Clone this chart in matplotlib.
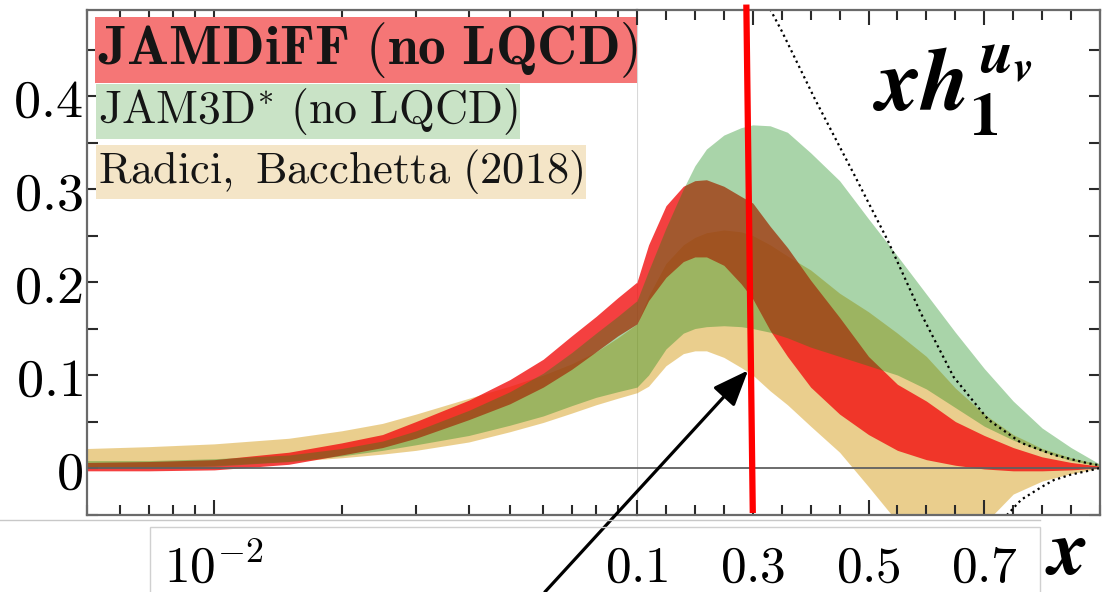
import matplotlib
matplotlib.use('Agg')
import matplotlib.pyplot as plt
from matplotlib.ticker import MultipleLocator, FixedLocator, FixedFormatter, NullFormatter, LogLocator
from matplotlib.patches import Rectangle
from matplotlib.lines import Line2D

plt.rcParams['mathtext.fontset'] = 'cm'
# bold italic for the big label (custom math font set)
plt.rcParams['mathtext.it'] = 'STIXGeneral:italic:bold'
plt.rcParams['mathtext.rm'] = 'STIXGeneral:bold'
plt.rcParams['mathtext.bf'] = 'STIXGeneral:bold'

# x grid (log part below 0.1, linear part above)
x = [0.005, 0.007, 0.01, 0.015, 0.02, 0.025, 0.03, 0.04, 0.05, 0.06, 0.07, 0.08, 0.09,
     0.1, 0.12, 0.15, 0.18, 0.2, 0.22, 0.25, 0.28, 0.3, 0.33, 0.36, 0.4, 0.45, 0.5,
     0.55, 0.6, 0.65, 0.7, 0.75, 0.8, 0.85, 0.9]

# JAMDiFF (no LQCD)
diff_hi = [0.006, 0.007, 0.009, 0.017, 0.027, 0.036, 0.05, 0.073, 0.095, 0.117, 0.142, 0.163, 0.183,
           0.2, 0.24, 0.282, 0.303, 0.309, 0.31, 0.303, 0.292, 0.285, 0.26, 0.237, 0.202, 0.162, 0.12,
           0.09, 0.072, 0.05, 0.035, 0.022, 0.012, 0.006, 0.002]
diff_lo = [-0.003, -0.003, -0.002, 0.004, 0.014, 0.022, 0.032, 0.052, 0.069, 0.087, 0.106, 0.125, 0.142,
           0.155, 0.18, 0.205, 0.222, 0.227, 0.227, 0.218, 0.198, 0.182, 0.148, 0.12, 0.087, 0.058, 0.036,
           0.019, 0.009, 0.003, -0.001, -0.003, -0.003, -0.002, 0.0]

# JAM3D* (no LQCD)
jam3d_hi = [0.008, 0.008, 0.01, 0.014, 0.021, 0.029, 0.04, 0.062, 0.082, 0.102, 0.124, 0.145, 0.163,
            0.18, 0.212, 0.258, 0.3, 0.325, 0.343, 0.358, 0.366, 0.369, 0.368, 0.361, 0.339, 0.309, 0.268,
            0.228, 0.187, 0.146, 0.107, 0.072, 0.043, 0.022, 0.004]
jam3d_lo = [0.0, 0.0, 0.002, 0.007, 0.013, 0.019, 0.025, 0.035, 0.046, 0.056, 0.067, 0.076, 0.082,
            0.087, 0.1, 0.128, 0.145, 0.15, 0.152, 0.153, 0.152, 0.15, 0.146, 0.14, 0.13, 0.12, 0.11,
            0.1, 0.085, 0.065, 0.045, 0.03, 0.018, 0.008, 0.002]

# Radici, Bacchetta (2018)
rb_hi = [0.021, 0.023, 0.026, 0.032, 0.04, 0.048, 0.058, 0.075, 0.088, 0.1, 0.112, 0.125, 0.14,
         0.155, 0.185, 0.22, 0.24, 0.248, 0.253, 0.256, 0.254, 0.25, 0.24, 0.228, 0.213, 0.188, 0.168,
         0.145, 0.12, 0.086, 0.058, 0.036, 0.021, 0.011, 0.004]
rb_lo = [0.0, 0.001, 0.003, 0.007, 0.011, 0.015, 0.019, 0.028, 0.039, 0.049, 0.059, 0.068, 0.075,
         0.081, 0.088, 0.11, 0.123, 0.126, 0.126, 0.119, 0.108, 0.1, 0.083, 0.068, 0.045, 0.017, -0.02,
         -0.058, -0.072, -0.075, -0.06, -0.028, -0.014, -0.006, 0.0]

# dotted bound curves
bound_x = [0.32, 0.35, 0.408, 0.474, 0.533, 0.59, 0.647, 0.707, 0.764, 0.821, 0.88, 0.9]
bound_hi = [0.505, 0.47, 0.396, 0.317, 0.245, 0.167, 0.098, 0.052, 0.027, 0.014, 0.005, 0.003]
bound_lo_x = [0.72, 0.74, 0.764, 0.8, 0.82, 0.85, 0.88, 0.9]
bound_lo = [-0.065, -0.05, -0.034, -0.02, -0.013, -0.007, -0.003, 0.0]

fig = plt.figure(figsize=(11.03, 5.92), dpi=100)
L, R, B, T = 87 / 1103, 1100 / 1103, 1 - 515 / 592, 1 - 10 / 592
xs = 637 / 1103
ax_l = fig.add_axes([L, B, xs - L, T - B])
ax_r = fig.add_axes([xs, B, R - xs, T - B], sharey=ax_l)

# scales, limits and locators first
ax_l.set_xscale('log')
ax_l.set_xlim(0.005, 0.1)
ax_l.xaxis.set_major_locator(FixedLocator([0.01]))
ax_l.xaxis.set_major_formatter(FixedFormatter([r'$10^{-2}$']))
ax_l.xaxis.set_minor_locator(LogLocator(base=10, subs=[2, 3, 4, 5, 6, 7, 8, 9]))
ax_l.xaxis.set_minor_formatter(NullFormatter())

ax_l.set_ylim(-0.0505, 0.4925)
ax_l.yaxis.set_major_locator(FixedLocator([0, 0.1, 0.2, 0.3, 0.4]))
ax_l.yaxis.set_major_formatter(FixedFormatter([r'$0$', r'$0.1$', r'$0.2$', r'$0.3$', r'$0.4$']))
ax_l.yaxis.set_minor_locator(MultipleLocator(0.05))

ax_r.set_xlim(0.1, 0.9)
ax_r.xaxis.set_major_locator(FixedLocator([0.1, 0.3, 0.5, 0.7]))
ax_r.xaxis.set_major_formatter(FixedFormatter([r'$0.1$', r'$0.3$', r'$0.5$', r'$0.7$']))
ax_r.xaxis.set_minor_locator(MultipleLocator(0.05))

spine_c = '#6a6a6a'
for ax in (ax_l, ax_r):
    ax.fill_between(x, rb_lo, rb_hi, color='#d79f1d', alpha=0.5, lw=0, zorder=1)
    ax.fill_between(x, diff_lo, diff_hi, color='#f21010', alpha=0.8, lw=0, zorder=2)
    ax.fill_between(x, jam3d_lo, jam3d_hi, color='#138813', alpha=0.36, lw=0, zorder=3)
    ax.axhline(0, color='#606060', lw=1.3, zorder=4)
    for s in ax.spines.values():
        s.set_color(spine_c)
        s.set_linewidth(1.6)
        s.set_zorder(6)
    ax.tick_params(which='both', direction='in', top=True, bottom=True, color='#2a2a2a', width=1.5)
    ax.tick_params(axis='x', which='major', length=11, labelsize=37, pad=20)
    ax.tick_params(axis='x', which='minor', length=7)

ax_l.spines['right'].set_visible(False)
ax_l.tick_params(axis='y', which='both', left=True, right=False, length=8, labelsize=39, pad=3)
ax_r.spines['left'].set_visible(False)
ax_r.tick_params(axis='y', which='both', left=False, right=True, labelleft=False, length=8)
ax_r.axvline(0.1, color='#d8d8d8', lw=0.8, zorder=0)

ax_r.plot(bound_x, bound_hi, color='k', ls=(0, (1, 1.6)), lw=1.6, zorder=5)
ax_r.plot(bound_lo_x, bound_lo, color='k', ls=(0, (1, 1.6)), lw=1.6, zorder=5)

# legend as coloured text boxes
leg = [(r'$\mathbf{JAMDiFF\ (no\ LQCD)}$', '#f57676', 0.893, 40),
       (r'$\mathrm{JAM3D^{*}\ (no\ LQCD)}$', '#c9e3c6', 0.776, 33),
       (r'$\mathrm{Radici,\ Bacchetta\ (2018)}$', '#f4e5c7', 0.657, 32)]
for txt, fc, yy, fs in leg:
    ax_l.text(0.02, yy, txt, transform=ax_l.transAxes, fontsize=fs, va='baseline',
              color='#151515', zorder=7,
              bbox=dict(boxstyle='square,pad=0.05', fc=fc, ec='none'))

ax_r.text(0.51, 0.8, r'$xh_1^{u_v}$', transform=ax_r.transAxes, fontsize=63,
          va='baseline', math_fontfamily='custom', zorder=7)
fig.text(0.947, 0.03, r'$x$', fontsize=56, va='baseline', math_fontfamily='custom')

# annotations drawn on top of the figure
ax_r.plot([0.289, 0.3], [0.495, -0.045], color='#ff0000', lw=4.5, zorder=8, clip_on=False)
ax_r.annotate('', xy=(0.292, 0.105), xycoords='data', xytext=(0.494, 0.0),
              textcoords='figure fraction',
              arrowprops=dict(arrowstyle='-|>,head_length=1.0,head_width=0.4', color='k',
                              lw=2.3, mutation_scale=22, shrinkA=0, shrinkB=0),
              zorder=9, annotation_clip=False)

# pasted label strip outline
fig.add_artist(Line2D([0, 1040 / 1103], [1 - 520 / 592] * 2, color='#c8c8c8', lw=1))
fig.add_artist(Rectangle((150 / 1103, -0.01), 890 / 1103, 1 - 527 / 592 + 0.01,
                         fill=False, ec='#d0d0d0', lw=1))

fig.savefig('out.png', dpi=100)
